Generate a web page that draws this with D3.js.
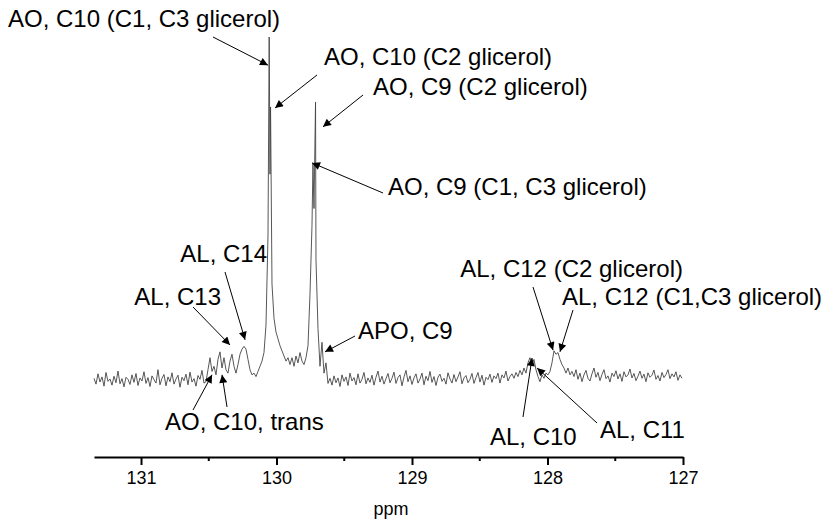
<!DOCTYPE html>
<html>
<head>
<meta charset="utf-8">
<script src="https://cdn.jsdelivr.net/npm/d3@7"></script>
<style>
  body { margin: 0; background: #fff; }
  svg { display: block; font-family: "Liberation Sans", Arial, sans-serif; }
</style>
</head>
<body>
<svg width="829" height="525"></svg>
<script>
// ppm grid of the spectrum (uniform sampling) and intensities
const ppmStart = 131.347;
const ppmStep = 0.01476;
const signal = [
  0.5,-1.2,1.8,-0.6,0.9,-1.8,2.2,-0.4,0.3,-1.5,
  1.1,-0.8,2.6,-1.1,0.4,-2.0,0.8,0.2,-1.3,1.5,
  -0.7,1.9,-1.6,0.6,-0.3,2.4,-1.0,0.7,-1.9,1.2,
  0.1,-0.9,3.0,-1.4,0.5,1.6,-1.7,0.9,-0.5,2.1,
  -1.2,0.3,1.4,-2.1,0.8,-0.2,1.7,-1.4,2.3,-0.6,
  0.4,-1.8,1.3,0.2,2.8,-0.9,-0.5,3.0,6.5,2.5,
  4.0,1.5,6.0,8.2,3.5,6.5,3.0,2.0,5.5,7.5,
  4.0,2.0,4.5,7.5,9.0,9.8,9.0,6.0,3.0,1.5,
  2.0,1.0,2.5,4.0,5.5,8.0,16,42,60,28,
  18,14,12,10,8.5,7,5.5,6.5,4.5,6.5,
  4.0,7.0,5.0,8.0,5.5,4.5,6.5,10,25,45,
  50,35,15,4,11,2,5,-1.0,0.5,-1.5,
  1.2,-0.8,0.6,-1.9,1.5,-0.4,0.9,-1.6,2.0,-0.3,
  0.7,-1.4,1.8,-0.9,0.2,2.2,-1.1,0.6,-0.7,1.4,
  -1.5,0.8,2.6,-0.6,1.1,-1.2,0.4,1.9,-0.8,0.5,
  2.3,-1.0,0.7,1.5,-1.7,0.9,2.8,-0.5,1.2,-1.3,
  0.6,1.8,-0.9,0.3,2.0,-1.4,1.1,-0.2,2.5,-0.7,
  1.0,-1.6,0.8,1.7,-0.4,0.5,-1.2,2.1,0.3,-0.9,
  1.6,-0.5,0.9,2.4,-1.1,0.6,1.3,-0.8,0.2,1.9,
  -1.0,0.7,2.2,-0.6,1.4,-1.5,0.8,0.1,1.7,-0.7,
  1.2,0.4,2.0,-0.9,1.5,0.6,2.6,-0.3,1.0,1.8,
  0.5,2.2,1.0,2.8,1.5,3.5,2.0,5.0,6.5,4.5,
  6.0,3.0,1.0,-0.5,1.5,0.5,2.0,1.5,2.5,5.0,
  8.5,7.5,8.0,6.0,4.5,3.5,2.0,3.5,1.5,2.5,
  1.0,3.0,0.2,2.0,-0.5,1.5,2.8,0.5,-0.3,1.8,
  3.5,0.8,2.2,-0.2,1.6,3.0,0.4,1.2,-0.6,2.0,
  1.0,2.7,0.3,1.8,-0.4,2.4,0.9,1.5,3.2,0.6,
  1.9,-0.2,1.1,2.6,0.5,1.7,-0.5,2.1,0.8,1.4,
  2.9,0.2,1.3,-0.3,2.2,0.7,1.6,3.0,0.4,1.8,
  0.9,2.4,-0.1,1.5,0.5
];
// sharp line tops that fall between grid points
const peakPpm = [130.054, 130.044, 129.731, 129.712];
const peakHeight = [100, 79.6, 63, 81];

const majorTicks = [131, 130, 129, 128, 127];
const minorTicks = [130.5, 129.5, 128.5, 127.5];

// annotations: text, arrow head in data units
const labelText = [
  "AO, C10 (C1, C3 glicerol)", "AO, C10 (C2 glicerol)", "AO, C9 (C2 glicerol)",
  "AO, C9 (C1, C3 glicerol)", "AL, C14", "AL, C13", "APO, C9", "AO, C10, trans",
  "AL, C12 (C2 glicerol)", "AL, C12 (C1,C3 glicerol)", "AL, C10", "AL, C11"
];
const headPpm = [
  [130.063], [130.011], [129.657], [129.738], [130.232], [130.343], [129.642],
  [130.476, 130.402], [127.959], [127.908], [128.114], [128.077]
];
const headInt = [
  [91.8], [79.3], [73.8], [63.3], [11.7], [10.2], [8.2],
  [1.5, 1.5], [8.7], [8.2], [6.4], [3.5]
];

// layout of the labels (pixels): text anchor point, anchor, arrow tails
const labelPos = [
  [8, 27, "start"], [324, 65, "start"], [373, 95, "start"], [388, 195, "start"],
  [267, 262, "end"], [221, 305, "end"], [358, 339, "start"], [165, 430, "start"],
  [683, 277, "end"], [562, 305, "start"], [490, 445, "start"], [600, 438, "start"]
];
const tailPos = [
  [[213, 37]], [[317, 75]], [[363, 95]], [[383, 193]], [[225, 272]], [[193, 307]],
  [[355, 336]], [[193, 410], [227, 407]], [[533, 287]], [[573, 310]],
  [[523, 417]], [[597, 423]]
];

const svg = d3.select("svg");

const x = d3.scaleLinear().domain([ppmStart, 127]).range([94, 683]);
const y = d3.scaleLinear().domain([0, 100]).range([380, 37]);

// build trace: grid points plus the sharp tops, ordered by ppm
let pts = signal.map((v, i) => [ppmStart - i * ppmStep, v]);
peakPpm.forEach((p, i) => pts.push([p, peakHeight[i]]));
pts.sort((a, b) => b[0] - a[0]);

svg.append("path")
  .datum(pts)
  .attr("fill", "none")
  .attr("stroke", "#444")
  .attr("stroke-width", 0.9)
  .attr("stroke-linejoin", "round")
  .attr("d", d3.line().x(d => x(d[0])).y(d => y(d[1])));

// axis
const axisY = 457;
const gx = svg.append("g").attr("transform", `translate(0,${axisY})`);
gx.call(d3.axisBottom(x).tickValues(majorTicks).tickSize(8).tickSizeOuter(0).tickFormat(d3.format("d")));
gx.select(".domain").attr("stroke", "#000").attr("stroke-width", 2);
gx.selectAll(".tick line").attr("stroke", "#000").attr("stroke-width", 2);
gx.selectAll(".tick text")
  .attr("font-family", "Liberation Sans, Arial, sans-serif")
  .attr("font-size", 18)
  .attr("fill", "#000")
  .attr("y", 14);

gx.selectAll(".minor")
  .data(minorTicks)
  .join("line")
  .attr("class", "minor")
  .attr("x1", d => x(d)).attr("x2", d => x(d))
  .attr("y1", 0).attr("y2", 4)
  .attr("stroke", "#000").attr("stroke-width", 2);

svg.append("text")
  .attr("x", 391).attr("y", 515)
  .attr("text-anchor", "middle")
  .attr("font-size", 18)
  .text("ppm");

// arrows
svg.append("defs").append("marker")
  .attr("id", "head")
  .attr("viewBox", "0 0 10 10")
  .attr("refX", 10).attr("refY", 5)
  .attr("markerWidth", 12).attr("markerHeight", 8)
  .attr("markerUnits", "userSpaceOnUse")
  .attr("orient", "auto")
  .append("path")
  .attr("d", "M0,0L10,5L0,10Z")
  .attr("fill", "#000");

labelText.forEach((t, i) => {
  tailPos[i].forEach((tail, j) => {
    svg.append("line")
      .attr("x1", tail[0]).attr("y1", tail[1])
      .attr("x2", x(headPpm[i][j])).attr("y2", y(headInt[i][j]))
      .attr("stroke", "#000").attr("stroke-width", 1)
      .attr("marker-end", "url(#head)");
  });
  svg.append("text")
    .attr("x", labelPos[i][0]).attr("y", labelPos[i][1])
    .attr("text-anchor", labelPos[i][2])
    .attr("font-size", 24)
    .attr("fill", "#000")
    .text(t);
});
</script>
</body>
</html>
